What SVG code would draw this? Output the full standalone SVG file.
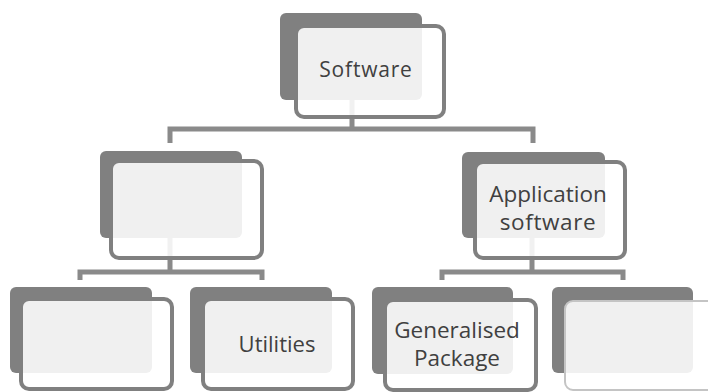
<svg xmlns="http://www.w3.org/2000/svg" width="708" height="392" viewBox="0 0 708 392">
<style>
.sh{fill:#808080}
.fr{fill:#ffffff;fill-opacity:0.88;stroke:#808080;stroke-width:4}
.fr2{fill:#ffffff;fill-opacity:0.88;stroke:#c4c4c4;stroke-width:2}
.cn{fill:none;stroke:#8a8a8a;stroke-width:5}
.t{font-family:"Open Sans","Noto Sans",sans-serif;fill:#404040;text-anchor:middle}
</style>
<rect width="708" height="392" fill="#ffffff"/>
<g id="connectors">
<path class="cn" d="M352 70V129M170 143V129H533V143"/>
<path class="cn" d="M170 205V272M80 280V272H262V280"/>
<path class="cn" d="M532 205V272M442 280V272H623V280"/>
</g>
<g id="n-software">
<rect class="sh" x="280" y="13" width="142" height="87" rx="6"/>
<rect class="fr" x="296" y="26" width="148" height="91" rx="8"/>
<text class="t" x="366" y="77" font-size="21" letter-spacing="0.8">Software</text>
</g>
<g id="n-system">
<rect class="sh" x="100" y="151" width="142" height="87" rx="6"/>
<rect class="fr" x="111" y="161" width="151" height="97" rx="8"/>
</g>
<g id="n-application">
<rect class="sh" x="462" y="152" width="143" height="86" rx="6"/>
<rect class="fr" x="475" y="162" width="150" height="96" rx="8"/>
<text class="t" x="548" y="202" font-size="22.5">Application</text>
<text class="t" x="548" y="230" font-size="22.5" letter-spacing="0.6">software</text>
</g>
<g id="n-b1">
<rect class="sh" x="10" y="287" width="142" height="86" rx="6"/>
<rect class="fr" x="21" y="299" width="151" height="90" rx="8"/>
</g>
<g id="n-utilities">
<rect class="sh" x="190" y="287" width="142" height="86" rx="6"/>
<rect class="fr" x="203" y="299" width="150" height="90" rx="8"/>
<text class="t" x="277" y="352" font-size="22">Utilities</text>
</g>
<g id="n-generalised">
<rect class="sh" x="372" y="287" width="141" height="87" rx="6"/>
<rect class="fr" x="385" y="300" width="151" height="90" rx="8"/>
<text class="t" x="457" y="338" font-size="22.5">Generalised</text>
<text class="t" x="457" y="366" font-size="22.5">Package</text>
</g>
<g id="n-b4">
<rect class="sh" x="552" y="287" width="141" height="86" rx="6"/>
<rect class="fr2" x="565" y="301" width="150" height="89" rx="8"/>
</g>
</svg>
